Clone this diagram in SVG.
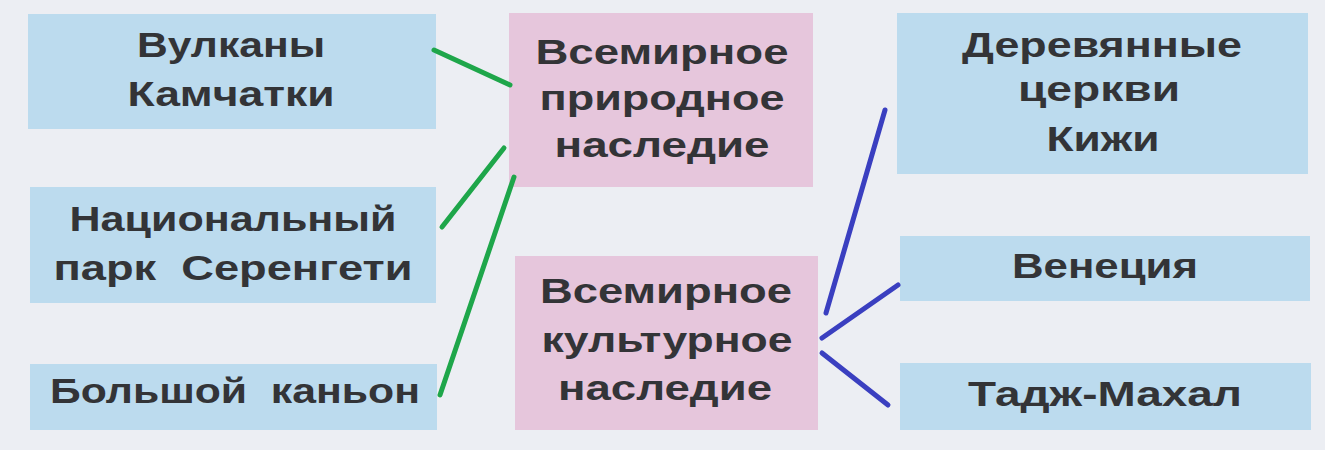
<svg xmlns="http://www.w3.org/2000/svg" width="1325" height="450" viewBox="0 0 1325 450">
<style>
.bg{fill:#eceef3}
.blue{fill:#bcdbee}
.pink{fill:#e6c6dc}
text{font-family:"Liberation Sans",Arial,sans-serif;font-weight:bold;font-size:35px;fill:#333437;text-anchor:middle}
.g{stroke:#1ea64a;stroke-width:5;stroke-linecap:round;fill:none}
.b{stroke:#3a3fc0;stroke-width:5;stroke-linecap:round;fill:none}
</style>
<rect class="bg" x="0" y="0" width="1325" height="450"/>
<g id="volcanoes"><rect class="blue" x="28" y="14" width="408" height="115"/><text x="231" y="57" textLength="188" lengthAdjust="spacingAndGlyphs">Вулканы</text><text x="231" y="106" textLength="207" lengthAdjust="spacingAndGlyphs">Камчатки</text></g>
<g id="serengeti"><rect class="blue" x="30" y="187" width="406" height="116"/><text x="233" y="231" textLength="327" lengthAdjust="spacingAndGlyphs">Национальный</text><text x="233" y="280" textLength="359" lengthAdjust="spacingAndGlyphs" xml:space="preserve">парк  Серенгети</text></g>
<g id="canyon"><rect class="blue" x="30" y="364" width="407" height="66"/><text x="235" y="403" textLength="370" lengthAdjust="spacingAndGlyphs" xml:space="preserve">Большой  каньон</text></g>
<g id="natural"><rect class="pink" x="509" y="13" width="304" height="174"/><text x="662" y="64" textLength="253" lengthAdjust="spacingAndGlyphs">Всемирное</text><text x="662" y="110" textLength="245" lengthAdjust="spacingAndGlyphs">природное</text><text x="662" y="157" textLength="215" lengthAdjust="spacingAndGlyphs">наследие</text></g>
<g id="cultural"><rect class="pink" x="515" y="256" width="303" height="174"/><text x="666" y="303" textLength="252" lengthAdjust="spacingAndGlyphs">Всемирное</text><text x="667" y="352" textLength="251" lengthAdjust="spacingAndGlyphs">культурное</text><text x="665" y="400" textLength="214" lengthAdjust="spacingAndGlyphs">наследие</text></g>
<g id="kizhi"><rect class="blue" x="897" y="13" width="411" height="161"/><text x="1102" y="57" textLength="280" lengthAdjust="spacingAndGlyphs">Деревянные</text><text x="1099" y="101" textLength="162" lengthAdjust="spacingAndGlyphs">церкви</text><text x="1103" y="151" textLength="113" lengthAdjust="spacingAndGlyphs">Кижи</text></g>
<g id="venice"><rect class="blue" x="900" y="236" width="410" height="65"/><text x="1105" y="278" textLength="186" lengthAdjust="spacingAndGlyphs">Венеция</text></g>
<g id="tajmahal"><rect class="blue" x="900" y="363" width="411" height="67"/><text x="1105" y="406" textLength="274" lengthAdjust="spacingAndGlyphs">Тадж-Махал</text></g>
<g id="connectors">
<line class="g" x1="434" y1="50" x2="510" y2="85"/>
<line class="g" x1="442" y1="227" x2="504" y2="148"/>
<line class="g" x1="440" y1="395" x2="514" y2="177"/>
<line class="b" x1="885" y1="110" x2="826" y2="313"/>
<line class="b" x1="898" y1="285" x2="822" y2="338"/>
<line class="b" x1="822" y1="353" x2="888" y2="405"/>
</g>
</svg>
